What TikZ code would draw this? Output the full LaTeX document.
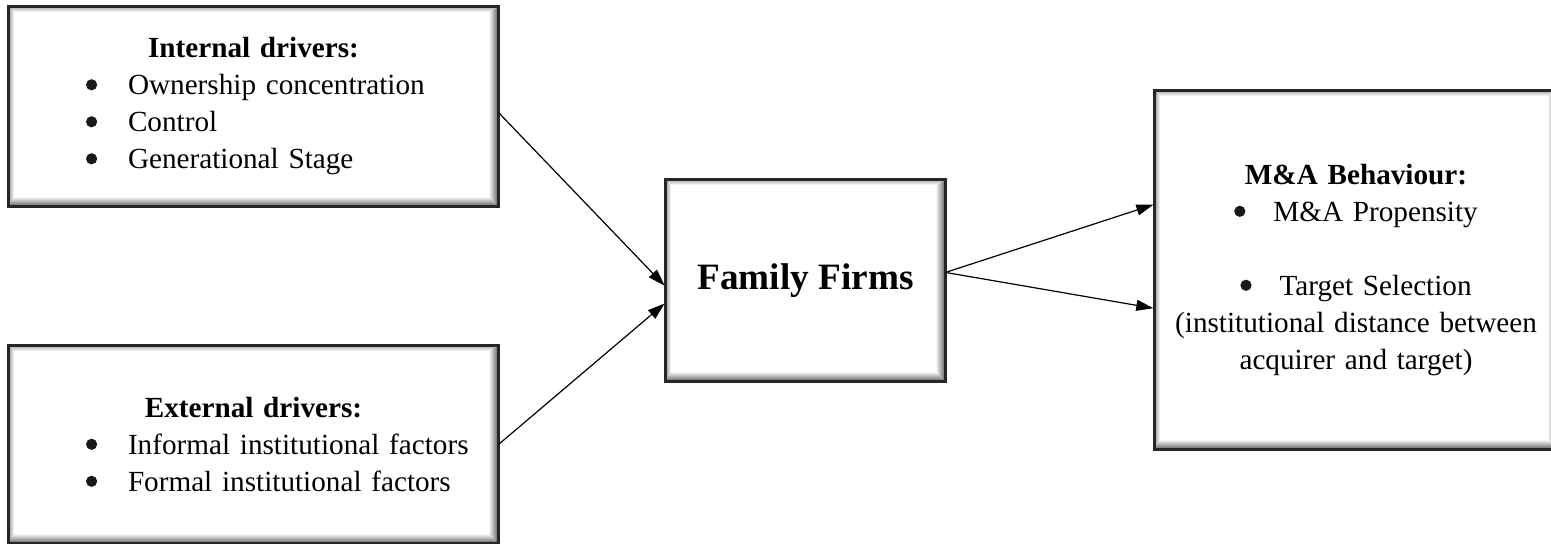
\documentclass[tikz,border=0pt]{standalone}
\usepackage{fontspec}
\setmainfont{Liberation Serif}
\usetikzlibrary{arrows.meta,calc}
\tikzset{
  box/.style={draw=black!85, line width=1.5pt, fill=white, inner sep=0pt,
    font=\fontsize{14.6}{18.5}\selectfont},
  conn/.style={line width=0.6pt, shorten >=0.6pt, -{Triangle[length=8.5pt,width=5.5pt]}},
}
\newcommand\bevelframe[1]{%
  \shade[top color=white, bottom color=black!55]
    ($(#1.south west)+(0.75pt,0.75pt)$) -- ($(#1.south east)+(-0.75pt,0.75pt)$) --
    ($(#1.south east)+(-5pt,5pt)$) -- ($(#1.south west)+(2.75pt,5pt)$) -- cycle;
  \shade[left color=white, right color=black!55]
    ($(#1.south east)+(-0.75pt,0.75pt)$) -- ($(#1.north east)+(-0.75pt,-0.75pt)$) --
    ($(#1.north east)+(-5pt,-2.75pt)$) -- ($(#1.south east)+(-5pt,5pt)$) -- cycle;
  \shade[left color=black!30, right color=white]
    ($(#1.south west)+(0.75pt,0.75pt)$) -- ($(#1.north west)+(0.75pt,-0.75pt)$) --
    ($(#1.north west)+(2.75pt,-2.75pt)$) -- ($(#1.south west)+(2.75pt,5pt)$) -- cycle;
  \shade[top color=black!25, bottom color=white]
    ($(#1.north west)+(0.75pt,-0.75pt)$) -- ($(#1.north east)+(-0.75pt,-0.75pt)$) --
    ($(#1.north east)+(-5pt,-2.75pt)$) -- ($(#1.north west)+(2.75pt,-2.75pt)$) -- cycle;
  \draw[draw=black!85, line width=1.6pt] (#1.south west) rectangle (#1.north east);
}
\newcommand\bigbul{\tikz[baseline=0pt,x=1pt,y=1pt]{\fill[black!90] (2.8pt,5.1pt) circle[radius=2.8pt];}}
\newcommand\bul[1]{\hspace*{38pt}\makebox[21pt][l]{\bigbul}#1}
\begin{document}
\begin{tikzpicture}[x=0.5pt,y=-0.5pt]
\useasboundingbox (0,0) rectangle (1551,543);
\clip (0,0) rectangle (1551,543);

\node[box, minimum width=243.5pt, minimum height=98.5pt, text width=243.5pt, align=left] (int) at (253.5,106.5)
 {\makebox[243.5pt]{\textbf{Internal drivers:}}\\
  \bul{Ownership concentration}\\
  \bul{Control}\\
  \bul{Generational Stage}};
\bevelframe{int}

\node[box, minimum width=243.5pt, minimum height=97.5pt, text width=243.5pt, align=left] (ext) at (253.5,444.5)
 {\makebox[243.5pt]{\textbf{External drivers:}}\\
  \bul{Informal institutional factors}\\
  \bul{Formal institutional factors}};
\bevelframe{ext}

\node[box, minimum width=138.5pt, minimum height=99.5pt, align=center,
  font=\fontsize{18.6}{22}\selectfont\bfseries] (fam) at (805.5,280.5) {Family Firms};
\bevelframe{fam}

\node[box, minimum width=200pt, minimum height=178pt, text width=200pt, align=center] (mna) at (1356,270)
 {\textbf{M\&A Behaviour:}\\
  \bigbul\hspace{14pt}M\&A Propensity\\[18.5pt]
  \bigbul\hspace{14pt}Target Selection\\
  (institutional distance between\\
  acquirer and target)};
\bevelframe{mna}

\draw[conn] ($(int.north east)!0.53!(int.south east)$) -- ($(fam.north west)!0.53!(fam.south west)$);
\draw[conn] ($(ext.north east)!0.50!(ext.south east)$) -- ($(fam.north west)!0.61!(fam.south west)$);
\draw[conn] ($(fam.north east)!0.46!(fam.south east)$) -- ($(mna.north west)!0.317!(mna.south west)$);
\draw[conn] ($(fam.north east)!0.46!(fam.south east)$) -- ($(mna.north west)!0.607!(mna.south west)$);
\end{tikzpicture}
\end{document}
